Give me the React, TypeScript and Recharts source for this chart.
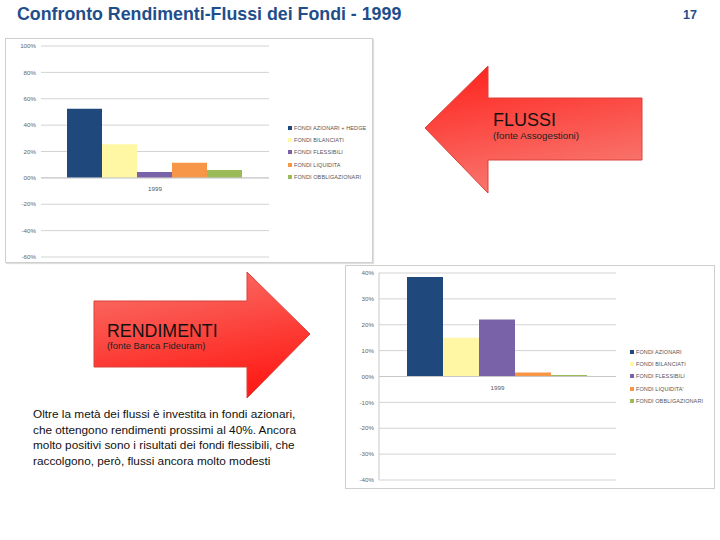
import React from "react";
import {
  BarChart,
  Bar,
  XAxis,
  YAxis,
  CartesianGrid,
  ReferenceLine,
} from "recharts";

const categories = ["1999"];

const flussiNames = [
  "FONDI AZIONARI + HEDGE",
  "FONDI BILANCIATI",
  "FONDI FLESSIBILI",
  "FONDI LIQUIDITA",
  "FONDI OBBLIGAZIONARI",
];
const flussiValues = [52.5, 25.5, 4.5, 11.5, 6];
const flussiTicks = [-60, -40, -20, 0, 20, 40, 60, 80, 100];

const rendimentiNames = [
  "FONDI AZIONARI",
  "FONDI BILANCIATI",
  "FONDI FLESSIBILI",
  "FONDI LIQUIDITA'",
  "FONDI OBBLIGAZIONARI",
];
const rendimentiValues = [38.5, 15, 22, 1.5, 0.6];
const rendimentiTicks = [-40, -30, -20, -10, 0, 10, 20, 30, 40];

const colors = ["#1F497D", "#FFF7A3", "#7A62A8", "#F79646", "#9BBB59"];

const FONT = "'Liberation Sans', Arial, sans-serif";

const buildRows = (values: number[]) =>
  categories.map((c) => {
    const row: Record<string, string | number> = { name: c };
    values.forEach((v, i) => (row["s" + i] = v));
    return row;
  });

const pct = (v: number) => (v === 0 ? "00%" : `${v}%`);

function SmallLegend({
  names,
  left,
  top,
}: {
  names: string[];
  left: number;
  top: number;
}) {
  return (
    <div
      style={{
        position: "absolute",
        left,
        top,
        fontFamily: FONT,
        fontSize: 5.5,
        color: "#555",
      }}
    >
      {names.map((n, i) => (
        <div
          key={n}
          style={{ display: "flex", alignItems: "center", height: 12.2 }}
        >
          <span
            style={{
              width: 4,
              height: 4,
              background: colors[i],
              marginRight: 2,
              display: "inline-block",
            }}
          />
          <span style={{ letterSpacing: 0.1, whiteSpace: "nowrap" }}>{n}</span>
        </div>
      ))}
    </div>
  );
}

interface FundChartProps {
  names: string[];
  values: number[];
  ticks: number[];
  width: number;
  height: number;
  margin: { top: number; right: number; bottom: number; left: number };
  yWidth: number;
  gap: number;
  axisLine: boolean;
}

function FundChart(p: FundChartProps) {
  const rows = buildRows(p.values);
  return (
    <BarChart
      width={p.width}
      height={p.height}
      data={rows}
      margin={p.margin}
      barGap={0}
      barCategoryGap={p.gap}
    >
      <CartesianGrid vertical={false} stroke="#d3d3d3" />
      <XAxis dataKey="name" hide />
      <YAxis
        type="number"
        domain={[p.ticks[0], p.ticks[p.ticks.length - 1]]}
        ticks={p.ticks}
        interval={0}
        width={p.yWidth}
        tickSize={0}
        tickMargin={5}
        axisLine={p.axisLine ? { stroke: "#c8c8c8" } : false}
        tickLine={false}
        tickFormatter={pct}
        tick={{ fontSize: 6.2, fill: "#666", fontFamily: FONT }}
      />
      <ReferenceLine
        y={0}
        stroke="#c8c8c8"
        label={{
          value: categories[0],
          position: "bottom",
          offset: 9,
          fontSize: 6.2,
          fill: "#555",
          fontFamily: FONT,
        }}
      />
      {p.names.map((n, i) => (
        <Bar
          key={n}
          dataKey={"s" + i}
          name={n}
          fill={colors[i]}
          isAnimationActive={false}
        />
      ))}
    </BarChart>
  );
}

export default function App() {
  return (
    <div
      style={{
        position: "absolute",
        left: 0,
        top: 0,
        width: 720,
        height: 540,
        background: "#fff",
        overflow: "hidden",
        fontFamily: FONT,
      }}
    >
      {/* titolo */}
      <div
        style={{
          position: "absolute",
          left: 17,
          top: 4,
          fontSize: 17.8,
          fontWeight: "bold",
          color: "#1F4E8A",
          whiteSpace: "nowrap",
        }}
      >
        Confronto Rendimenti-Flussi dei Fondi - 1999
      </div>
      <div
        style={{
          position: "absolute",
          left: 683,
          top: 8,
          fontSize: 12.5,
          fontWeight: "bold",
          color: "#1F4E8A",
        }}
      >
        17
      </div>

      {/* grafico flussi */}
      <div
        style={{
          position: "absolute",
          left: 5,
          top: 38,
          width: 366,
          height: 223,
          border: "1px solid #cfcfcf",
          boxShadow: "1px 1px 1px #e0e0e0",
        }}
      >
        <FundChart
          names={flussiNames}
          values={flussiValues}
          ticks={flussiTicks}
          width={366}
          height={223}
          margin={{ top: 7, right: 103, bottom: 5, left: 0 }}
          yWidth={35}
          gap={26}
          axisLine={false}
        />
        <SmallLegend names={flussiNames} left={282} top={83} />
      </div>

      {/* grafico rendimenti */}
      <div
        style={{
          position: "absolute",
          left: 345,
          top: 265,
          width: 368,
          height: 222,
          border: "1px solid #cfcfcf",
        }}
      >
        <FundChart
          names={rendimentiNames}
          values={rendimentiValues}
          ticks={rendimentiTicks}
          width={368}
          height={222}
          margin={{ top: 7, right: 98, bottom: 8, left: 0 }}
          yWidth={33}
          gap={28}
          axisLine={true}
        />
        <SmallLegend names={rendimentiNames} left={284} top={80} />
      </div>

      {/* frecce */}
      <svg
        width={720}
        height={540}
        style={{ position: "absolute", left: 0, top: 0, pointerEvents: "none" }}
      >
        <defs>
          <linearGradient id="gLeft" x1="0" y1="0" x2="0.3" y2="1">
            <stop offset="0%" stopColor="#FF1F1A" />
            <stop offset="100%" stopColor="#F8766E" />
          </linearGradient>
          <linearGradient id="gRight" x1="0" y1="0" x2="0.3" y2="1">
            <stop offset="0%" stopColor="#F8766E" />
            <stop offset="100%" stopColor="#FF1F1A" />
          </linearGradient>
        </defs>
        <polygon
          points="425,128 488,66 488,98 642,98 642,160 488,160 488,193"
          fill="url(#gLeft)"
          stroke="#D8433B"
          strokeWidth={1}
        />
        <polygon
          points="94,301 247,301 247,272 310,334 247,398 247,367 94,367"
          fill="url(#gRight)"
          stroke="#D8433B"
          strokeWidth={1}
        />
        <text x={493} y={126} fontSize={18} fill="#111" fontFamily={FONT}>
          FLUSSI
        </text>
        <text x={493} y={139} fontSize={9.8} fill="#222" fontFamily={FONT}>
          (fonte Assogestioni)
        </text>
        <text x={107} y={337} fontSize={17.8} fill="#111" fontFamily={FONT}>
          RENDIMENTI
        </text>
        <text x={107} y={349} fontSize={9.4} fill="#222" fontFamily={FONT}>
          (fonte Banca Fideuram)
        </text>
      </svg>

      {/* commento */}
      <div
        style={{
          position: "absolute",
          left: 33,
          top: 407,
          width: 300,
          fontSize: 11.8,
          lineHeight: "15.5px",
          color: "#111",
          whiteSpace: "nowrap",
        }}
      >
        Oltre la metà dei flussi è investita in fondi azionari,
        <br />
        che ottengono rendimenti prossimi al 40%. Ancora
        <br />
        molto positivi sono i risultati dei fondi flessibili, che
        <br />
        raccolgono, però, flussi ancora molto modesti
      </div>
    </div>
  );
}
